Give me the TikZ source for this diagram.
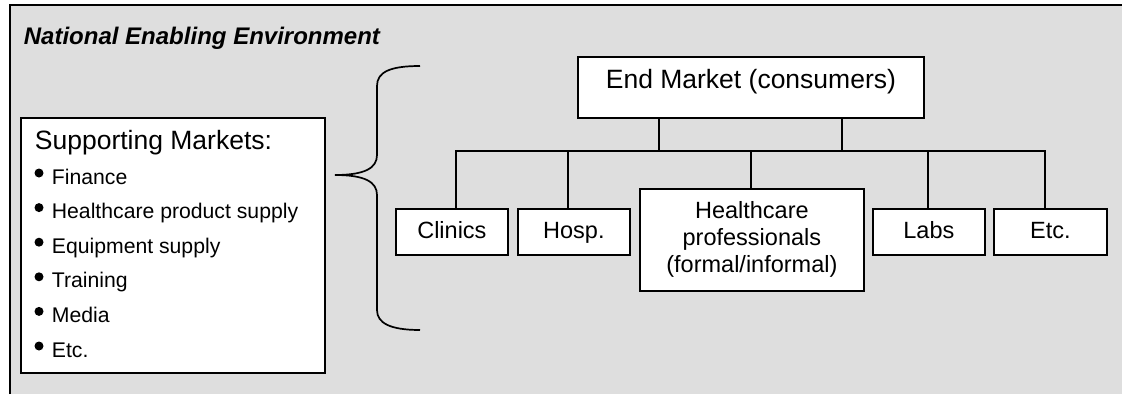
\documentclass[tikz,border=0pt]{standalone}
\usepackage{fontspec}
\setmainfont{Liberation Sans}
\definecolor{bg}{RGB}{222,222,222}
\begin{document}
\begin{tikzpicture}[x=1pt,y=-1pt,
  line width=1.8pt,
  box/.style={draw=black,fill=white,line width=1.8pt,inner sep=0pt,anchor=north west,
    font=\fontsize{23.5}{27}\selectfont,align=center},
  smallbox/.style={box,minimum width=112pt,text height=30pt,text depth=16pt},
  item/.style={anchor=base west,inner sep=0pt,font=\fontsize{21.2}{25}\selectfont},
  conn/.style={draw=black,line width=1.8pt,line join=miter}]
\useasboundingbox (0,0) rectangle (1122,394);
\fill[bg] (10,5) rectangle (1122,394);
\draw[line width=1.8pt] (10,394) -- (10,5) -- (1122,5);
\node[anchor=base west,inner sep=0pt,font=\fontsize{24}{28}\selectfont\bfseries\itshape] (title) at (23,44) {National Enabling Environment};
% supporting markets
\node[box,minimum width=304pt,minimum height=255pt] (sm) at (20,117) {};
\node[anchor=base west,inner sep=0pt,font=\fontsize{26.5}{30}\selectfont] (smh) at (34,149) {Supporting Markets:};
\foreach \t [count=\i] in {Finance,Healthcare product supply,Equipment supply,Training,Media,Etc.}{
  \node[item] (it\i) at (51,{184+34.6*(\i-1)}) {\t};
  \fill (39,{173+34.6*(\i-1)}) circle (4.5pt);
}
% brace
\draw[line width=1.7pt] (420,66) .. controls (390,66) and (377,72) .. (377,86) -- (377,155)
  .. controls (377,168) and (365,175) .. (335,175)
  .. controls (365,175) and (377,182) .. (377,195) -- (377,310)
  .. controls (377,323) and (390,330) .. (420,330);
% tree coordinates
\coordinate (d1) at (456,151);
\coordinate (d2) at (568,151);
\coordinate (d3) at (751,151);
\coordinate (d4) at (928,151);
\coordinate (d5) at (1045,151);
\coordinate (u1) at (659,151);
\coordinate (u2) at (842,151);
% nodes
\node[box,minimum width=346pt,text height=32pt,text depth=29pt,font=\fontsize{26.5}{30}\selectfont] (em) at (577,56) {End Market (consumers)};
\node[smallbox] (cl) at (395,208) {Clinics};
\node[smallbox] (ho) at (517,208) {Hosp.};
\node[box,minimum width=224pt,minimum height=102pt] (hc) at (639,188) {Healthcare\\professionals\\(formal/informal)};
\node[smallbox] (la) at (872,208) {Labs};
\node[smallbox,minimum width=113pt] (et) at (993,208) {Etc.};
% connectors
\draw[conn] (u1 |- em.south) -- (u1);
\draw[conn] (u2 |- em.south) -- (u2);
\draw[conn] (d1 |- cl.north) -- (d1) -- (d5) -- (d5 |- et.north);
\draw[conn] (d2) -- (d2 |- ho.north);
\draw[conn] (d3) -- (d3 |- hc.north);
\draw[conn] (d4) -- (d4 |- la.north);
\end{tikzpicture}
\end{document}
